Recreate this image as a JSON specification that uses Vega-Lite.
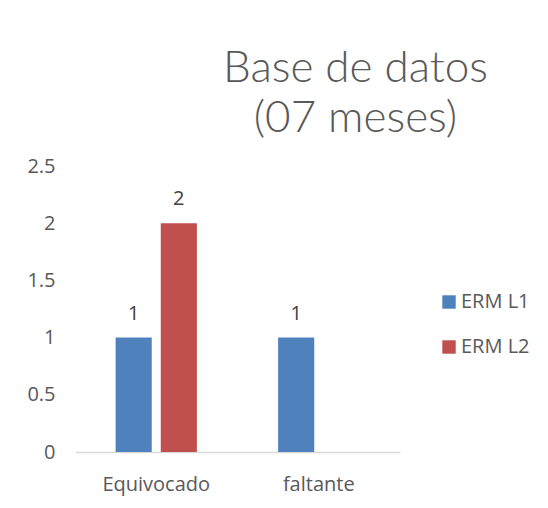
{
  "$schema": "https://vega.github.io/schema/vega-lite/v6.json",
  "width": 325,
  "height": 286,
  "autosize": "none",
  "padding": {"left": 75, "top": 166, "right": 148, "bottom": 56},
  "background": "white",
  "title": {
    "text": ["Base de datos", "(07 meses)"],
    "font": "Lato",
    "fontWeight": 300,
    "fontSize": 44,
    "color": "#595959",
    "lineHeight": 50,
    "anchor": "middle",
    "dx": 118,
    "offset": 15
  },
  "data": {
    "values": [
      {"categoria": "Equivocado", "serie": "ERM L1", "valor": 1},
      {"categoria": "Equivocado", "serie": "ERM L2", "valor": 2},
      {"categoria": "faltante", "serie": "ERM L1", "valor": 1}
    ]
  },
  "encoding": {
    "x": {
      "field": "categoria",
      "type": "nominal",
      "sort": null,
      "scale": {"paddingInner": 0.5, "paddingOuter": 0.25},
      "axis": {
        "title": null,
        "labelAngle": 0,
        "labelFont": "Open Sans",
        "labelFontSize": 20,
        "labelColor": "#595959",
        "labelPadding": 22,
        "ticks": false,
        "domainColor": "#d9d9d9",
        "domainWidth": 1.5
      }
    },
    "xOffset": {
      "field": "serie",
      "type": "nominal",
      "scale": {"domain": ["ERM L1", "ERM L2"], "paddingInner": 0.2, "paddingOuter": 0}
    },
    "y": {
      "field": "valor",
      "type": "quantitative",
      "scale": {"domain": [0, 2.5]},
      "axis": {
        "title": null,
        "values": [0, 0.5, 1, 1.5, 2, 2.5],
        "format": "~g",
        "grid": false,
        "domain": false,
        "ticks": false,
        "labelFont": "Open Sans",
        "labelFontSize": 20,
        "labelColor": "#595959",
        "labelPadding": 20
      }
    }
  },
  "layer": [
    {
      "mark": {"type": "bar"},
      "encoding": {
        "color": {
          "field": "serie",
          "type": "nominal",
          "scale": {"domain": ["ERM L1", "ERM L2"], "range": ["#4F81BD", "#C0504D"]},
          "legend": {
            "title": null,
            "orient": "none",
            "legendX": 364,
            "legendY": 126,
            "symbolType": "square",
            "symbolSize": 180,
            "symbolStrokeWidth": 0,
            "labelFont": "Open Sans",
            "labelFontSize": 20,
            "labelColor": "#595959",
            "rowPadding": 25,
            "labelOffset": 2
          }
        }
      }
    },
    {
      "mark": {"type": "text", "dy": -24, "font": "Open Sans", "fontSize": 20, "color": "#404040"},
      "encoding": {"text": {"field": "valor", "type": "quantitative"}}
    }
  ],
  "config": {"view": {"stroke": null}}
}
